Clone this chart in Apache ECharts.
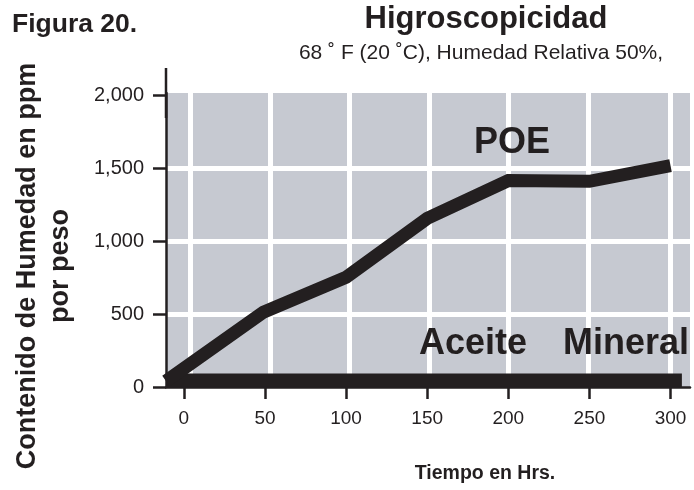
<!DOCTYPE html>
<html>
<head>
<meta charset="utf-8">
<script src="https://cdn.jsdelivr.net/npm/echarts@6/dist/echarts.min.js"></script>
<style>
  html, body { margin: 0; padding: 0; background: #fff; }
  #chart { width: 694px; height: 490px; }
</style>
</head>
<body>
<div id="chart"></div>
<script>
// Figura 20. Higroscopicidad (POE vs aceite mineral)
const xTicks = [0, 50, 100, 150, 200, 250, 300];
const yTicks = [0, 500, 1000, 1500, 2000];
// las líneas blancas de la rejilla no coinciden exactamente con las marcas del eje
const gridX = [4, 53, 102, 151, 200, 249, 300];
const gridY = [500, 1000, 1500];
const poeHours = [-11, 49, 100, 150, 200, 250, 300];
const poePpm = [40, 512, 752, 1155, 1415, 1410, 1518];
const mineralHours = [-11, 307];
const mineralPpm = [45, 45];

const ink = '#231f20';
const font = "'Liberation Sans', Arial, Helvetica, sans-serif";

const chart = echarts.init(document.getElementById('chart'));

function pairs(xs, ys) {
  return xs.map((x, i) => [x, ys[i]]);
}

function txt(text, x, y, size, bold, align) {
  return {
    type: 'text',
    x: x, y: y,
    z: 20,
    style: {
      text: text,
      fill: ink,
      font: (bold ? 'bold ' : '') + size + 'px ' + font,
      textAlign: align || 'center',
      textVerticalAlign: 'middle'
    }
  };
}

const gridLines = gridX.map(v => ({ xAxis: v })).concat(gridY.map(v => ({ yAxis: v })));

const option = {
  animation: false,
  grid: {
    left: 166, right: 4, top: 93, bottom: 103,
    show: true,
    backgroundColor: '#c6c9d1',
    borderWidth: 0
  },
  xAxis: {
    type: 'value',
    min: -11,
    max: 312,
    z: 6,
    axisLine: { show: true, onZero: false, lineStyle: { color: ink, width: 2.5 } },
    axisTick: { show: true, length: 12, customValues: xTicks, lineStyle: { color: ink, width: 2.5 } },
    axisLabel: { customValues: xTicks, margin: 22, color: ink, fontSize: 19, fontFamily: font },
    splitLine: { show: false }
  },
  yAxis: {
    type: 'value',
    min: 0,
    max: 2015,
    z: 6,
    axisLine: {
      show: true,
      onZero: false,
      lineStyle: { color: ink, width: 2.5 },
      symbol: ['none', 'rect'],
      symbolSize: [2.5, 50]
    },
    axisTick: { show: true, length: 13, customValues: yTicks, lineStyle: { color: ink, width: 2.5 } },
    axisLabel: {
      customValues: yTicks,
      margin: 22,
      color: ink,
      fontSize: 20,
      fontFamily: font,
      formatter: v => v.toLocaleString('en-US')
    },
    splitLine: { show: false }
  },
  series: [
    {
      name: 'rejilla',
      type: 'line',
      data: [],
      z: 1,
      markLine: {
        z: 1,
        silent: true,
        symbol: 'none',
        label: { show: false },
        lineStyle: { color: '#ffffff', width: 5, type: 'solid' },
        data: gridLines
      }
    },
    {
      name: 'Aceite Mineral',
      type: 'line',
      data: pairs(mineralHours, mineralPpm),
      symbol: 'none',
      lineStyle: { color: ink, width: 14, cap: 'butt' },
      z: 3
    },
    {
      name: 'POE',
      type: 'line',
      data: pairs(poeHours, poePpm),
      symbol: 'none',
      lineStyle: { color: ink, width: 13, cap: 'butt', join: 'miter' },
      z: 4
    }
  ],
  graphic: [
    txt('Figura 20.', 12, 25, 26.5, true, 'left'),
    txt('Higroscopicidad', 486, 19, 31, true),
    txt('68 ˚ F (20 ˚C), Humedad Relativa 50%,', 481, 53, 21, false),
    txt('POE', 512, 143, 36, true),
    txt('Aceite', 473, 344, 36, true),
    txt('Mineral', 626, 344, 36, true),
    txt('Tiempo en Hrs.', 485, 474, 19.5, true),
    {
      type: 'text',
      x: 44, y: 266,
      z: 20,
      rotation: Math.PI / 2,
      style: {
        text: 'Contenido de Humedad en ppm\npor peso',
        fill: ink,
        font: 'bold 27px ' + font,
        lineHeight: 33,
        textAlign: 'center',
        textVerticalAlign: 'middle'
      }
    }
  ]
};

chart.setOption(option);
window.addEventListener('resize', () => chart.resize());
</script>
</body>
</html>
